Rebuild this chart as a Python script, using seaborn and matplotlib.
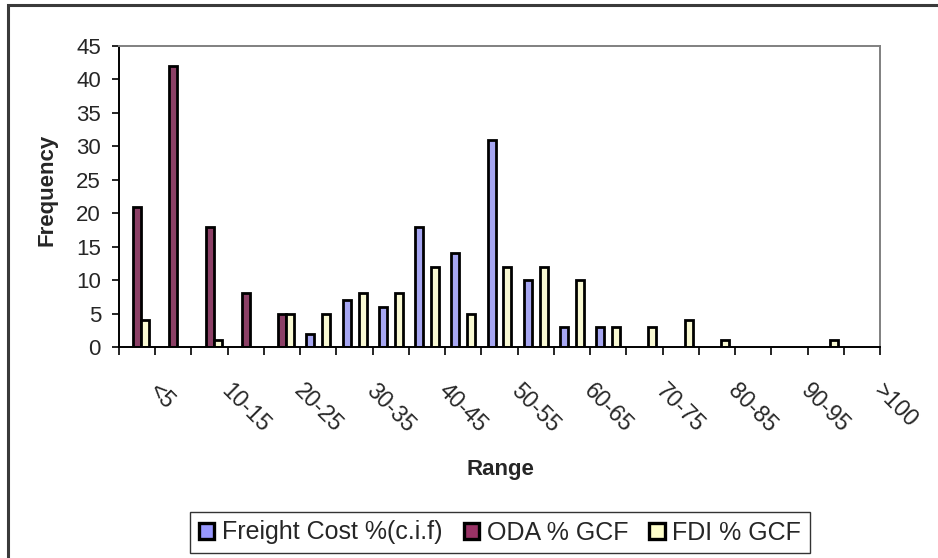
import matplotlib
matplotlib.use("Agg")
import matplotlib.pyplot as plt
import matplotlib.transforms as mtransforms
from matplotlib.patches import Patch, Rectangle
import pandas as pd
import seaborn as sns

# ---- data ----
RANGES = ["<5", "5-10", "10-15", "15-20", "20-25", "25-30", "30-35", "35-40",
          "40-45", "45-50", "50-55", "55-60", "60-65", "65-70", "70-75",
          "75-80", "80-85", "85-90", "90-95", "95-100", ">100"]
FREIGHT = [0, 0, 0, 0, 0, 2, 7, 6, 18, 14, 31, 10, 3, 3, 0, 0, 0, 0, 0, 0, 0]
ODA     = [21, 42, 18, 8, 5, 0, 0, 0, 0, 0, 0, 0, 0, 0, 0, 0, 0, 0, 0, 0, 0]
FDI     = [4, 0, 1, 0, 5, 5, 8, 8, 12, 5, 12, 12, 10, 3, 3, 4, 1, 0, 0, 1, 0]
SERIES  = ["Freight Cost %(c.i.f)", "ODA % GCF", "FDI % GCF"]
Y_TICKS = [0, 5, 10, 15, 20, 25, 30, 35, 40, 45]

COLORS = {"Freight Cost %(c.i.f)": "#9999FF",
          "ODA % GCF": "#993366",
          "FDI % GCF": "#FFFFCC"}

W, H = 938, 558


def main():
    sns.set_style("white")
    plt.rcParams["font.family"] = ["Liberation Sans", "DejaVu Sans"]

    df = pd.DataFrame({
        "range": RANGES * 3,
        "freq": FREIGHT + ODA + FDI,
        "series": [s for s in SERIES for _ in RANGES],
    })

    fig = plt.figure(figsize=(W / 100, H / 100), dpi=100, facecolor="white")
    ax = fig.add_axes([119 / W, 1 - 347 / H, (880 - 119) / W, (347 - 46) / H])

    sns.barplot(data=df, x="range", y="freq", hue="series",
                order=RANGES, hue_order=SERIES, palette=COLORS,
                width=0.66, edgecolor="black", linewidth=2.0,
                errorbar=None, legend=False, ax=ax)
    # Excel does not draw empty bars
    for p in ax.patches:
        if p.get_height() == 0:
            p.set_visible(False)

    ax.set_xlim(-0.5, len(RANGES) - 0.5)
    ax.set_ylim(0, 45)

    # y axis
    ax.set_yticks(Y_TICKS)
    ax.set_yticklabels([str(v) for v in Y_TICKS], fontsize=16)
    ax.tick_params(axis="y", direction="out", length=5, width=1.2,
                   color="black", pad=8, left=True)

    # x axis: tick marks between categories, labels every other category
    ax.set_xticks([i - 0.5 for i in range(len(RANGES) + 1)])
    ax.set_xticklabels([])
    ax.tick_params(axis="x", which="major", direction="out", length=6,
                   width=1.2, color="black", bottom=True)
    ax.set_xticks(range(0, len(RANGES), 2), minor=True)
    ax.set_xticklabels(RANGES[::2], minor=True, fontsize=16.5,
                       rotation=-45, ha="left", va="top")
    ax.tick_params(axis="x", which="minor", length=0, pad=23)
    offset = mtransforms.ScaledTranslation(0.07, 0, fig.dpi_scale_trans)
    for lbl in ax.get_xticklabels(minor=True):
        lbl.set_transform(lbl.get_transform() + offset)

    ax.set_xlabel("")
    ax.set_ylabel("")
    fig.text(500 / W, 1 - 469 / H, "Range", fontsize=16, fontweight="bold",
             ha="center", va="center")
    fig.text(47 / W, 1 - 190 / H, "Frequency", fontsize=16,
             fontweight="bold", rotation=90, ha="center", va="center")

    for side in ["left", "bottom"]:
        ax.spines[side].set_color("black")
        ax.spines[side].set_linewidth(1.4)
    for side in ["top", "right"]:
        ax.spines[side].set_visible(True)
        ax.spines[side].set_color("#808080")
        ax.spines[side].set_linewidth(1.4)

    # legend
    handles = [Patch(facecolor=COLORS[s], edgecolor="black", linewidth=2.4,
                     label=s) for s in SERIES]
    leg = fig.legend(handles=handles, loc="center",
                     bbox_to_anchor=(500 / W, 1 - 532.5 / H), ncol=3,
                     fontsize=18, frameon=True, fancybox=False,
                     handlelength=0.62, handleheight=0.62,
                     handletextpad=0.3, columnspacing=0.85,
                     borderpad=0.35, borderaxespad=0)
    leg.get_frame().set_edgecolor("black")
    leg.get_frame().set_linewidth(1.0)

    # outer chart area border
    fig.patches.append(Rectangle((8 / W, -0.02), 1.05, 1 - 5 / H + 0.02,
                                 transform=fig.transFigure, fill=False,
                                 edgecolor="#3a3a3a", linewidth=2.2,
                                 zorder=0))

    fig.savefig("out.png", dpi=100, facecolor="white")
    plt.close(fig)


if __name__ == "__main__":
    main()
